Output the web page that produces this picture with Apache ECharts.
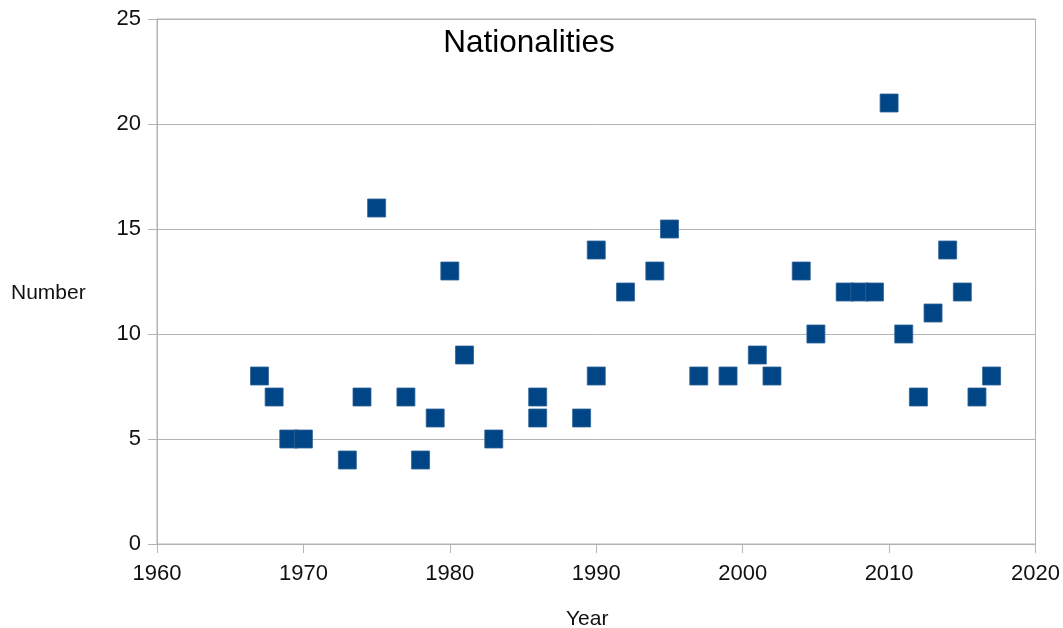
<!DOCTYPE html>
<html>
<head>
<meta charset="utf-8">
<script src="https://cdn.jsdelivr.net/npm/echarts@6/dist/echarts.min.js"></script>
<style>html,body{margin:0;padding:0;background:#fff;}#c{width:1063px;height:628px;}</style>
</head>
<body>
<div id="c"></div>
<script>
const years = [1967,1968,1969,1970,1973,1974,1975,1977,1978,1979,1980,1981,1983,1986,1986,1989,1990,1990,1992,1994,1995,1997,1999,2001,2002,2004,2005,2007,2008,2009,2010,2011,2012,2013,2014,2015,2016,2017];
const numbers = [8,7,5,5,4,7,16,7,4,6,13,9,5,7,6,6,14,8,12,13,15,8,8,9,8,13,10,12,12,12,21,10,7,11,14,12,7,8];
const xTicks = [1960, 2020, 10];
const yTicks = [0, 25, 5];
const titleText = 'Nationalities';
const xName = 'Year';
const yName = 'Number';

const chart = echarts.init(document.getElementById('c'));
const font = '"Liberation Sans", Arial, sans-serif';
const grey = '#b3b3b3';
chart.setOption({
  animation: false,
  backgroundColor: '#fff',
  title: {
    text: titleText, left: 524, top: 22, textAlign: 'center',
    textStyle: { fontFamily: font, fontSize: 31.5, fontWeight: 'normal', color: '#000' }
  },
  grid: { left: 157, right: 27, top: 19, bottom: 84, show: true, borderColor: grey, borderWidth: 1 },
  xAxis: {
    type: 'value', min: xTicks[0], max: xTicks[1], interval: xTicks[2],
    axisLine: { show: true, lineStyle: { color: grey, width: 1 } },
    axisTick: { show: true, length: 9, lineStyle: { color: grey } },
    splitLine: { show: false },
    axisLabel: { fontFamily: font, fontSize: 22, color: '#111', margin: 19, formatter: v => String(v) }
  },
  yAxis: {
    type: 'value', min: yTicks[0], max: yTicks[1], interval: yTicks[2],
    axisLine: { show: true, lineStyle: { color: grey, width: 1 } },
    axisTick: { show: true, length: 9, lineStyle: { color: grey } },
    splitLine: { show: true, lineStyle: { color: grey, width: 1 } },
    axisLabel: { fontFamily: font, fontSize: 22, color: '#111', margin: 16 }
  },
  graphic: [
    { type: 'text', left: 11, top: 283, style: { text: yName, fontFamily: font, fontSize: 21, fill: '#111' } },
    { type: 'text', left: 566, top: 609, style: { text: xName, fontFamily: font, fontSize: 21, fill: '#111' } }
  ],
  series: [{
    type: 'scatter',
    symbol: 'rect',
    symbolSize: 18,
    data: years.map((y, i) => [y, numbers[i]]),
    itemStyle: { color: '#004586', opacity: 1, borderColor: '#2f6396', borderWidth: 0.8 }
  }]
});
</script>
</body>
</html>
